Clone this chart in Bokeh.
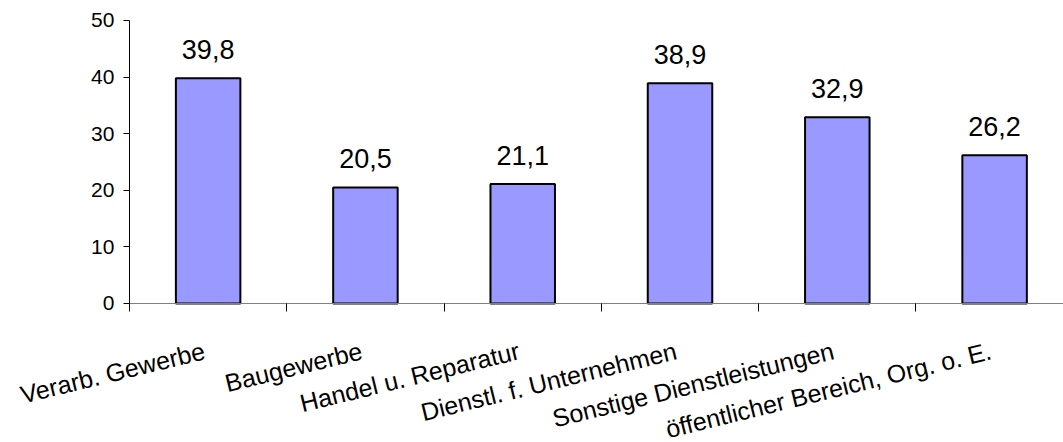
from bokeh.plotting import figure
from bokeh.models import (ColumnDataSource, Range1d, LinearAxis, FixedTicker,
                          LabelSet)
from bokeh.core.properties import value
from bokeh.embed import file_html
from bokeh.resources import INLINE

categories = ["Verarb. Gewerbe", "Baugewerbe", "Handel u. Reparatur",
              "Dienstl. f. Unternehmen", "Sonstige Dienstleistungen",
              "öffentlicher Bereich, Org. o. E."]
values = [39.8, 20.5, 21.1, 38.9, 32.9, 26.2]
y_ticks = [0, 10, 20, 30, 40, 50]

FONT = "Liberation Sans"

xs = [i + 0.5 for i in range(len(categories))]
src = ColumnDataSource(dict(
    x=xs, top=values, base=[0] * len(values), cat=categories,
    label=[f"{v:.1f}".replace(".", ",") for v in values],
))

# the frame fills the page; both axes sit at fixed locations (x=0, y=0),
# so the rotated category labels below 0 and left of the value axis are not clipped
p = figure(width=1063, height=442, output_backend="svg", toolbar_location=None,
           x_range=Range1d(-0.82, 5.938), y_range=Range1d(-24.56, 53.53),
           x_axis_type=None, y_axis_type=None,
           min_border_left=0, min_border_right=0,
           min_border_top=0, min_border_bottom=0)
p.outline_line_color = None
p.xgrid.visible = False
p.ygrid.visible = False
p.background_fill_color = "white"
p.border_fill_color = "white"

p.vbar(x="x", top="top", bottom=0, width=0.41, source=src,
       fill_color="#9999FF", line_color="black", line_width=2)

# value axis at category position 0
yax = LinearAxis(ticker=FixedTicker(ticks=y_ticks), bounds=(0, 50),
                 fixed_location=0)
yax.axis_line_color = "black"
yax.major_tick_line_color = "black"
yax.major_tick_out = 6
yax.major_tick_in = 0
yax.minor_tick_line_color = None
yax.major_label_text_font = FONT
yax.major_label_text_font_size = "21px"
yax.major_label_text_color = "black"
yax.major_label_standoff = 9
p.add_layout(yax, "left")

# category axis at value 0: tick marks at category boundaries
xax = LinearAxis(ticker=FixedTicker(ticks=list(range(len(categories) + 1))),
                 bounds=(0, 5.938), fixed_location=0)
xax.axis_line_color = "#808080"
xax.major_tick_line_color = "black"
xax.major_tick_out = 8
xax.major_tick_in = 0
xax.minor_tick_line_color = None
xax.major_label_text_font_size = "0px"
xax.major_label_text_color = None
xax.major_label_standoff = 0
p.add_layout(xax, "below")

# rotated category labels, right end near category centre
cat_labels = LabelSet(x="x", y="base", text="cat", source=src,
                      text_align="right", text_baseline="top", angle=0.24,
                      x_offset=-7, y_offset=-33,
                      text_font=value(FONT), text_font_size=value("25px"),
                      text_color="black")
p.add_layout(cat_labels)

labels = LabelSet(x="x", y="top", text="label", source=src,
                  text_align="center", text_baseline="alphabetic",
                  y_offset=19, text_font=value(FONT), text_font_size=value("27px"),
                  text_color="black")
p.add_layout(labels)

open("out.html", "w").write(file_html(p, INLINE))
